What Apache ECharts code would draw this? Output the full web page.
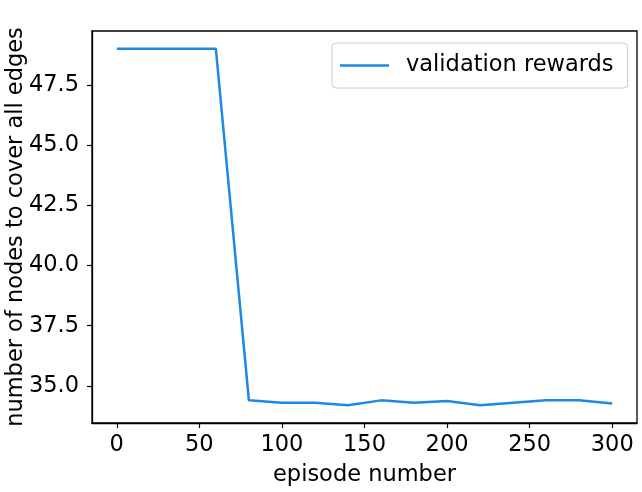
<!DOCTYPE html>
<html>
<head>
<meta charset="utf-8">
<script src="https://cdn.jsdelivr.net/npm/echarts@6/dist/echarts.min.js"></script>
<style>
  html, body { margin: 0; padding: 0; background: #fff; }
  #chart { width: 642px; height: 492px; }
</style>
</head>
<body>
<div id="chart"></div>
<script>
// 数据
const episodes = [0, 20, 40, 60, 80, 100, 120, 140, 160, 180, 200, 220, 240, 260, 280, 300];
const rewards = [49, 49, 49, 49, 34.4, 34.3, 34.3, 34.2, 34.4, 34.3, 34.37, 34.2, 34.3, 34.4, 34.4, 34.27];
const xTicks = [0, 50, 100, 150, 200, 250, 300];
const yTicks = [35, 37.5, 40, 42.5, 45, 47.5];

const font = 'DejaVu Sans';
const chart = echarts.init(document.getElementById('chart'));

const option = {
  animation: false,
  backgroundColor: '#fff',
  grid: {
    left: 92,
    right: 5,
    top: 31,
    bottom: 69,
    outerBoundsMode: 'none',
    containLabel: false,
    show: true,
    borderColor: '#000',
    borderWidth: 1.3,
    backgroundColor: 'transparent',
  },
  legend: {
    left: 332,
    top: 43,
    padding: [11, 14, 11, 8],
    borderColor: '#cccccc',
    borderWidth: 1,
    borderRadius: 4,
    itemWidth: 49,
    itemHeight: 22,
    itemGap: 0,
    icon: 'path://M0,9.8 L49,9.8 L49,12.2 L0,12.2 Z',
    textStyle: { fontFamily: font, fontSize: 22.5, color: '#000', padding: [0, 0, 0, 12] },
    data: ['validation rewards'],
  },
  xAxis: {
    type: 'value',
    min: -15,
    max: 315,
    name: 'episode number',
    nameLocation: 'middle',
    nameGap: 41,
    nameMoveOverlap: false,
    nameTextStyle: { fontFamily: font, fontSize: 22.5, color: '#000' },
    axisLine: { show: true, onZero: false, lineStyle: { color: '#000', width: 1.3 } },
    axisTick: { show: true, inside: false, length: 5, customValues: xTicks, lineStyle: { color: '#000', width: 1.2 } },
    axisLabel: { customValues: xTicks, fontFamily: font, fontSize: 22.5, color: '#000', margin: 11 },
    splitLine: { show: false },
  },
  yAxis: {
    type: 'value',
    min: 33.46,
    max: 49.74,
    name: 'number of nodes to cover all edges',
    nameLocation: 'middle',
    nameGap: 64,
    nameMoveOverlap: false,
    nameTextStyle: { fontFamily: font, fontSize: 22.5, color: '#000' },
    axisLine: { show: true, onZero: false, lineStyle: { color: '#000', width: 1.3 } },
    axisTick: { show: true, inside: false, length: 5, customValues: yTicks, lineStyle: { color: '#000', width: 1.2 } },
    axisLabel: {
      customValues: yTicks,
      fontFamily: font,
      fontSize: 22.5,
      color: '#000',
      margin: 13,
      formatter: (v) => v.toFixed(1),
    },
    splitLine: { show: false },
  },
  series: [
    {
      name: 'validation rewards',
      type: 'line',
      data: episodes.map((e, i) => [e, rewards[i]]),
      showSymbol: false,
      symbol: 'none',
      lineStyle: { color: '#1e88e5', width: 2.5 },
      itemStyle: { color: '#1e88e5' },
    },
  ],
};
chart.setOption(option);
</script>
</body>
</html>
